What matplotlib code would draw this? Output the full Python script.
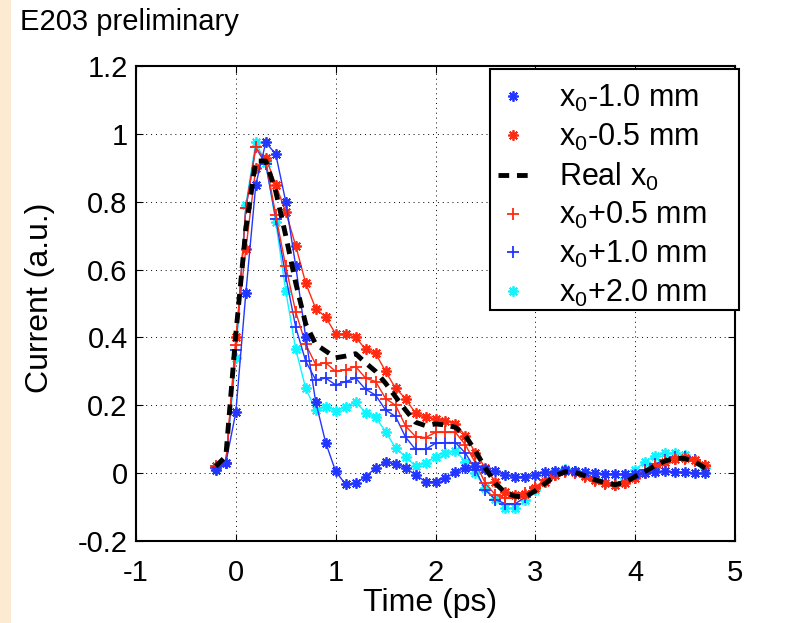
import numpy as np
import matplotlib
matplotlib.use("Agg")
import matplotlib.pyplot as plt
from matplotlib.lines import Line2D
from matplotlib.patches import Rectangle

plt.rcParams['font.family'] = ['Liberation Sans', 'DejaVu Sans']
plt.rcParams['mathtext.fontset'] = 'custom'
plt.rcParams['mathtext.rm'] = 'Liberation Sans'
plt.rcParams['mathtext.it'] = 'Liberation Sans'

time_ps = [-0.2, -0.1, 0.0, 0.1, 0.2, 0.3, 0.4, 0.5, 0.6, 0.7,
           0.8, 0.9, 1.0, 1.1, 1.2, 1.3, 1.4, 1.5, 1.6, 1.7,
           1.8, 1.9, 2.0, 2.1, 2.2, 2.3, 2.4, 2.5, 2.6, 2.7,
           2.8, 2.9, 3.0, 3.1, 3.2, 3.3, 3.4, 3.5, 3.6, 3.7,
           3.8, 3.9, 4.0, 4.1, 4.2, 4.3, 4.4, 4.5, 4.6, 4.7]

x0_minus_1_0 = [0.01, 0.03, 0.18, 0.53, 0.85, 0.975, 0.94, 0.80, 0.61, 0.40,
                0.21, 0.09, 0.005, -0.033, -0.03, -0.01, 0.015, 0.032, 0.028, 0.015,
                -0.005, -0.025, -0.025, -0.015, 0.003, 0.015, 0.02, 0.012, 0.005, -0.005,
                -0.01, -0.01, -0.005, 0.002, 0.005, 0.008, 0.005, 0.002, 0.0, -0.002,
                -0.003, -0.003, -0.002, 0.0, 0.003, 0.005, 0.004, 0.002, 0.0, -0.001]

x0_minus_0_5 = [0.02, 0.03, 0.40, 0.66, 0.90, 0.93, 0.85, 0.77, 0.67, 0.56,
                0.485, 0.46, 0.41, 0.41, 0.40, 0.365, 0.353, 0.30, 0.25, 0.22,
                0.176, 0.165, 0.16, 0.155, 0.145, 0.11, 0.06, 0.015, -0.025, -0.055,
                -0.065, -0.062, -0.045, -0.025, -0.005, 0.005, 0.003, -0.008, -0.02, -0.03,
                -0.035, -0.03, -0.015, 0.0, 0.018, 0.032, 0.042, 0.045, 0.038, 0.025]

real_x0 = [0.02, 0.05, 0.41, 0.72, 0.92, 0.92, 0.83, 0.70, 0.56, 0.44,
           0.38, 0.36, 0.34, 0.345, 0.352, 0.325, 0.30, 0.265, 0.225, 0.186,
           0.15, 0.14, 0.145, 0.142, 0.135, 0.11, 0.065, 0.015, -0.03, -0.058,
           -0.068, -0.07, -0.052, -0.03, -0.008, 0.004, 0.002, -0.008, -0.02, -0.028,
           -0.034, -0.027, -0.01, 0.005, 0.022, 0.036, 0.044, 0.043, 0.033, 0.015]

x0_plus_0_5 = [0.02, 0.03, 0.377, 0.78, 0.96, 0.92, 0.76, 0.61, 0.475, 0.38,
               0.32, 0.325, 0.30, 0.305, 0.314, 0.28, 0.27, 0.22, 0.20, 0.139,
               0.108, 0.105, 0.12, 0.12, 0.12, 0.083, 0.03, -0.03, -0.064, -0.074,
               -0.074, -0.06, -0.04, -0.02, -0.005, 0.003, 0.0, -0.01, -0.022, -0.032,
               -0.036, -0.03, -0.013, 0.003, 0.02, 0.035, 0.043, 0.043, 0.035, 0.022]

x0_plus_1_0 = [0.015, 0.03, 0.363, 0.78, 0.96, 0.91, 0.75, 0.58, 0.43, 0.33,
               0.275, 0.28, 0.26, 0.27, 0.28, 0.247, 0.23, 0.186, 0.167, 0.106,
               0.07, 0.07, 0.088, 0.09, 0.09, 0.059, 0.01, -0.05, -0.078, -0.09,
               -0.09, -0.07, -0.045, -0.02, -0.003, 0.007, 0.003, -0.008, -0.02, -0.03,
               -0.034, -0.025, -0.008, 0.01, 0.027, 0.04, 0.047, 0.047, 0.038, 0.02]

x0_plus_2_0 = [0.01, 0.03, 0.34, 0.79, 0.975, 0.915, 0.74, 0.537, 0.365, 0.25,
               0.186, 0.196, 0.184, 0.194, 0.21, 0.178, 0.165, 0.122, 0.074, 0.049,
               0.02, 0.03, 0.049, 0.059, 0.066, 0.034, 0.0, -0.044, -0.077, -0.104,
               -0.104, -0.08, -0.049, -0.02, 0.002, 0.012, 0.005, -0.005, -0.018, -0.028,
               -0.034, -0.015, 0.01, 0.034, 0.05, 0.058, 0.06, 0.053, 0.039, 0.015]

labels = [r'x$_0$-1.0 mm', r'x$_0$-0.5 mm', r'Real x$_0$',
          r'x$_0$+0.5 mm', r'x$_0$+1.0 mm', r'x$_0$+2.0 mm']

x_ticks = [-1, 0, 1, 2, 3, 4, 5]
y_ticks = [-0.2, 0, 0.2, 0.4, 0.6, 0.8, 1.0, 1.2]
y_ticklabels = ['-0.2', '0', '0.2', '0.4', '0.6', '0.8', '1', '1.2']

BLUE = '#2236ff'
RED = '#ff2a12'
CYAN = '#10f4ff'
AST = (8, 2, 0)

W, H = 792, 623
fig = plt.figure(figsize=(W / 100, H / 100), dpi=100)
fig.patches.append(Rectangle((0, 0), 11 / W, 1, transform=fig.transFigure,
                             facecolor='#fcebd2', edgecolor='none', zorder=-10))
ax = fig.add_axes([136 / W, 82 / H, 599 / W, 475 / H])

series = [
    (x0_plus_2_0, CYAN, AST),
    (x0_plus_1_0, BLUE, '+'),
    (x0_plus_0_5, RED, '+'),
    (x0_minus_0_5, RED, AST),
    (x0_minus_1_0, BLUE, AST),
]
for vals, col, mk in series:
    ax.plot(time_ps, vals, color=col, lw=1.0, marker=mk,
            ms=7.5 if mk == AST else 8.5, mew=1.3, zorder=3)
ax.plot(time_ps, real_x0, color='black', lw=3.5, ls=(0, (2.2, 1.6)), zorder=4)

ax.set_xlim(-1, 5)
ax.set_ylim(-0.2, 1.2)
ax.set_xticks(x_ticks)
ax.set_xticklabels([str(v) for v in x_ticks])
ax.set_yticks(y_ticks)
ax.set_yticklabels(y_ticklabels)
ax.grid(True, color='black', ls=(0, (1, 4)), lw=0.7)
ax.tick_params(direction='in', length=5, width=0.8, top=True, right=True,
               labelsize=21)
ax.tick_params(axis='x', pad=13)
ax.tick_params(axis='y', pad=6)
for s in ax.spines.values():
    s.set_linewidth(1.5)

ax.set_xlabel('Time (ps)', fontsize=23, va='top')
ax.xaxis.set_label_coords((430 - 136) / 599, (541 - 588) / 475)
ax.set_ylabel('Current (a.u.)', fontsize=23, va='center')
ax.yaxis.set_label_coords((40 - 136) / 599, (541 - 298) / 475)

# legend frame (MATLAB-style box with extra right padding)
ax.add_patch(Rectangle((490 / W, 1 - 310 / H), 249 / W, 241 / H,
                       transform=fig.transFigure, facecolor='white',
                       edgecolor='black', lw=1.5, zorder=6, clip_on=False))

handles = [
    Line2D([], [], color=BLUE, marker=AST, ls='none', ms=7.5, mew=1.3),
    Line2D([], [], color=RED, marker=AST, ls='none', ms=7.5, mew=1.3),
    Line2D([], [], color='black', ls=(0, (2.2, 1.6)), lw=3.5),
    Line2D([], [], color=RED, marker='+', ls='none', ms=8.5, mew=1.3),
    Line2D([], [], color=BLUE, marker='+', ls='none', ms=8.5, mew=1.3),
    Line2D([], [], color=CYAN, marker=AST, ls='none', ms=7.5, mew=1.3),
]
leg = ax.legend(handles, labels, loc='upper left',
                bbox_to_anchor=(498 / W, 1 - 83 / H), bbox_transform=fig.transFigure,
                fontsize=22, frameon=False, handlelength=1.0, handletextpad=1.0,
                labelspacing=0.25, borderpad=0.0, borderaxespad=0.0)
leg.set_zorder(7)

fig.text(20 / W, 1 - 30 / H, 'E203 preliminary', fontsize=21,
         ha='left', va='baseline')

fig.savefig('out.png', dpi=100)
